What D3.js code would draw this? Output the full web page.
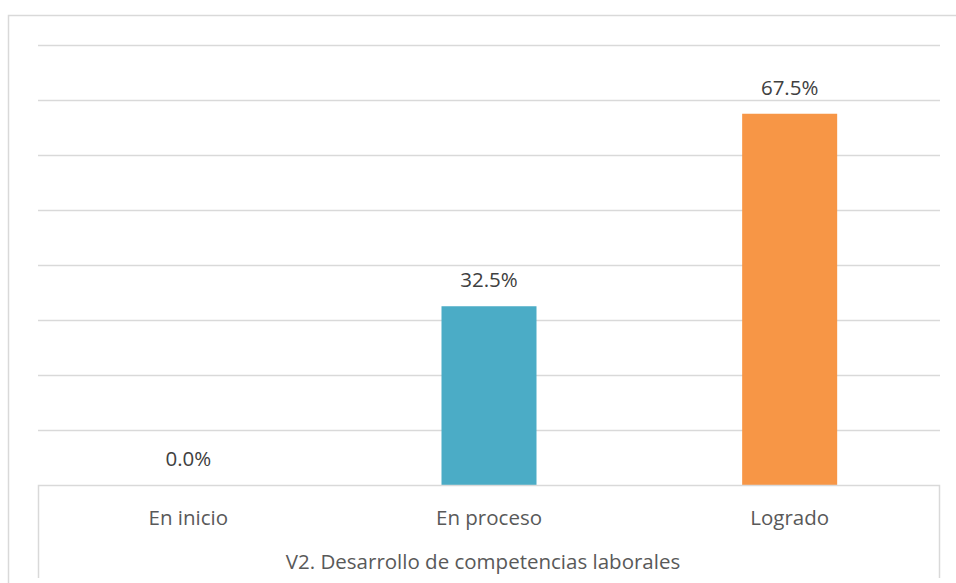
<!DOCTYPE html>
<html>
<head>
<meta charset="utf-8">
<script src="https://cdn.jsdelivr.net/npm/d3@7"></script>
<style>
  html, body { margin: 0; padding: 0; background: #fff; }
  svg { display: block; }
  text { font-family: "Open Sans", "Noto Sans", sans-serif; }
</style>
</head>
<body>
<svg id="chart" width="956" height="583"></svg>
<script>
// Data
const categories = ["En inicio", "En proceso", "Logrado"];
const values = [0.0, 32.5, 67.5];
const barColors = ["#4BACC6", "#4BACC6", "#F79646"];
const yTicks = [0, 10, 20, 30, 40, 50, 60, 70, 80];
const axisTitle = "V2. Desarrollo de competencias laborales";

const svg = d3.select("#chart");
const W = 956, H = 583;
const margin = { left: 38, right: 16, top: 45, bottom: 98 };
const plotW = W - margin.left - margin.right;
const baseY = H - margin.bottom;
const fontSize = 20.5;

// Outer chart frame (left and top edges; the rest runs off the page)
svg.append("path")
  .attr("d", `M8.5,${H} V15.5 H${W}`)
  .attr("fill", "none").attr("stroke", "#D9D9D9").attr("stroke-width", 1.5);

const x = d3.scaleBand()
  .domain(categories)
  .range([margin.left, margin.left + plotW])
  .paddingInner(0.684).paddingOuter(0.342);

const y = d3.scaleLinear()
  .domain([0, 80])
  .range([baseY, margin.top]);

// Horizontal gridlines
svg.append("g")
  .selectAll("line")
  .data(yTicks.slice(1))
  .join("line")
  .attr("x1", margin.left).attr("x2", margin.left + plotW)
  .attr("y1", d => Math.round(y(d)) + 0.5).attr("y2", d => Math.round(y(d)) + 0.5)
  .attr("stroke", "#D9D9D9").attr("stroke-width", 1.5);

// Bars
svg.append("g")
  .selectAll("rect")
  .data(values)
  .join("rect")
  .attr("x", (d, i) => x(categories[i]))
  .attr("width", x.bandwidth())
  .attr("y", d => y(d))
  .attr("height", d => baseY - y(d))
  .attr("fill", (d, i) => barColors[i]);

// Value labels
svg.append("g")
  .selectAll("text")
  .data(values)
  .join("text")
  .attr("x", (d, i) => x(categories[i]) + x.bandwidth() / 2)
  .attr("y", d => y(d) - 19)
  .attr("text-anchor", "middle")
  .attr("font-size", fontSize)
  .attr("fill", "#404040")
  .text(d => d.toFixed(1) + "%");

// Category axis box
const boxBottom = 578;
svg.append("path")
  .attr("d", `M${margin.left + 0.5},${boxBottom} V${baseY + 0.5} H${margin.left + plotW - 0.5} V${boxBottom}`)
  .attr("fill", "none").attr("stroke", "#D9D9D9").attr("stroke-width", 1.5);

const xAxis = d3.axisBottom(x).tickSize(0).tickPadding(0);
const gx = svg.append("g").attr("transform", `translate(0,${baseY})`).call(xAxis);
gx.select(".domain").remove();
gx.selectAll("text")
  .attr("y", 40)
  .attr("dy", 0)
  .attr("font-size", fontSize)
  .attr("font-family", "\"Open Sans\", sans-serif")
  .attr("fill", "#595959");

// Axis title
svg.append("text")
  .attr("x", margin.left + plotW / 2 - 6)
  .attr("y", baseY + 84)
  .attr("text-anchor", "middle")
  .attr("font-size", fontSize)
  .attr("fill", "#595959")
  .text(axisTitle);
</script>
</body>
</html>
